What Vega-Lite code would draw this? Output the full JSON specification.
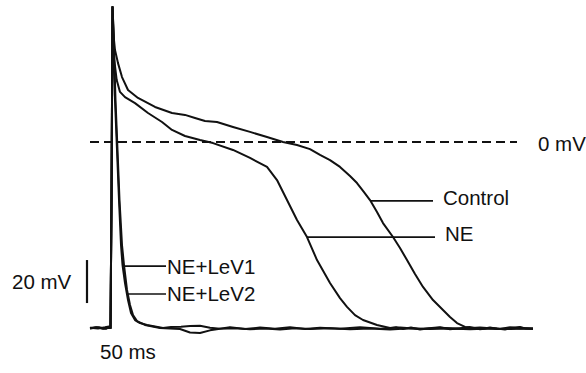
{
  "$schema": "https://vega.github.io/schema/vega-lite/v6.json",
  "width": 586,
  "height": 373,
  "autosize": {"type": "fit", "contains": "padding"},
  "padding": 0,
  "background": "white",
  "config": {"view": {"stroke": null}},
  "datasets": {
    "traces": [
      {"s":"Control","t":-21,"v":-86.5},{"s":"Control","t":-15,"v":-86.1},{"s":"Control","t":-8,"v":-86.9},{"s":"Control","t":-3,"v":-86.3},{"s":"Control","t":-0.5,"v":-86.5},{"s":"Control","t":0.5,"v":-27.0},{"s":"Control","t":1.5,"v":62.8},{"s":"Control","t":3,"v":47.4},{"s":"Control","t":4,"v":42.8},{"s":"Control","t":7,"v":36.7},{"s":"Control","t":11,"v":30.2},{"s":"Control","t":17,"v":24.2},{"s":"Control","t":27,"v":20.5},{"s":"Control","t":44,"v":16.3},{"s":"Control","t":61,"v":13.5},{"s":"Control","t":74,"v":12.6},{"s":"Control","t":84,"v":11.2},{"s":"Control","t":94,"v":9.8},{"s":"Control","t":106,"v":9.3},{"s":"Control","t":122,"v":7.0},{"s":"Control","t":139,"v":4.7},{"s":"Control","t":156,"v":2.3},{"s":"Control","t":172,"v":0.0},{"s":"Control","t":186,"v":-1.4},{"s":"Control","t":199,"v":-3.3},{"s":"Control","t":209,"v":-6.0},{"s":"Control","t":219,"v":-8.4},{"s":"Control","t":229,"v":-11.6},{"s":"Control","t":239,"v":-15.8},{"s":"Control","t":246,"v":-19.1},{"s":"Control","t":253,"v":-23.3},{"s":"Control","t":259,"v":-27.0},{"s":"Control","t":266,"v":-32.6},{"s":"Control","t":272,"v":-37.7},{"s":"Control","t":282,"v":-44.2},{"s":"Control","t":289,"v":-49.3},{"s":"Control","t":296,"v":-54.9},{"s":"Control","t":304,"v":-61.4},{"s":"Control","t":312,"v":-67.4},{"s":"Control","t":322,"v":-73.5},{"s":"Control","t":332,"v":-78.1},{"s":"Control","t":339,"v":-81.4},{"s":"Control","t":346,"v":-84.2},{"s":"Control","t":354,"v":-86.0},{"s":"Control","t":364,"v":-86.5},{"s":"Control","t":372,"v":-86.9},{"s":"Control","t":379,"v":-86.3},{"s":"Control","t":386,"v":-86.8},{"s":"Control","t":394,"v":-87.2},{"s":"Control","t":401,"v":-86.4},{"s":"Control","t":409,"v":-86.0},{"s":"Control","t":415,"v":-86.8},{"s":"Control","t":422,"v":-86.9},
      {"s":"NE","t":-21,"v":-86.7},{"s":"NE","t":-14,"v":-86.3},{"s":"NE","t":-7,"v":-86.8},{"s":"NE","t":-2,"v":-86.4},{"s":"NE","t":-0.5,"v":-86.5},{"s":"NE","t":0.5,"v":-27.0},{"s":"NE","t":1.5,"v":62.8},{"s":"NE","t":2.5,"v":47.4},{"s":"NE","t":3.3,"v":38.1},{"s":"NE","t":5.7,"v":28.8},{"s":"NE","t":9,"v":23.3},{"s":"NE","t":14,"v":20.9},{"s":"NE","t":24,"v":18.1},{"s":"NE","t":37,"v":13.5},{"s":"NE","t":51,"v":9.3},{"s":"NE","t":61,"v":5.6},{"s":"NE","t":74,"v":2.8},{"s":"NE","t":89,"v":0.9},{"s":"NE","t":102,"v":-0.5},{"s":"NE","t":122,"v":-3.7},{"s":"NE","t":139,"v":-7.4},{"s":"NE","t":156,"v":-11.6},{"s":"NE","t":166,"v":-17.7},{"s":"NE","t":176,"v":-27.0},{"s":"NE","t":186,"v":-36.3},{"s":"NE","t":196,"v":-44.2},{"s":"NE","t":206,"v":-54.9},{"s":"NE","t":219,"v":-65.6},{"s":"NE","t":229,"v":-72.6},{"s":"NE","t":236,"v":-76.7},{"s":"NE","t":244,"v":-80.5},{"s":"NE","t":252,"v":-82.8},{"s":"NE","t":266,"v":-85.1},{"s":"NE","t":279,"v":-86.5},{"s":"NE","t":285,"v":-86.1},{"s":"NE","t":292,"v":-87.0},{"s":"NE","t":300,"v":-86.3},{"s":"NE","t":309,"v":-87.2},{"s":"NE","t":318,"v":-86.6},{"s":"NE","t":329,"v":-86.2},{"s":"NE","t":339,"v":-87.1},{"s":"NE","t":349,"v":-86.6},{"s":"NE","t":359,"v":-86.1},{"s":"NE","t":369,"v":-87.1},{"s":"NE","t":379,"v":-86.5},{"s":"NE","t":389,"v":-87.0},{"s":"NE","t":399,"v":-86.2},{"s":"NE","t":409,"v":-86.7},{"s":"NE","t":422,"v":-86.9},
      {"s":"NE+LeV1","t":-21,"v":-86.4},{"s":"NE+LeV1","t":-13,"v":-86.8},{"s":"NE+LeV1","t":-6,"v":-86.2},{"s":"NE+LeV1","t":-2,"v":-85.8},{"s":"NE+LeV1","t":-0.5,"v":-86.5},{"s":"NE+LeV1","t":0.5,"v":-27.0},{"s":"NE+LeV1","t":1.5,"v":62.8},{"s":"NE+LeV1","t":2,"v":50.7},{"s":"NE+LeV1","t":4,"v":19.5},{"s":"NE+LeV1","t":6,"v":-3.7},{"s":"NE+LeV1","t":8,"v":-27.0},{"s":"NE+LeV1","t":10,"v":-47.9},{"s":"NE+LeV1","t":11.5,"v":-57.2},{"s":"NE+LeV1","t":14,"v":-65.6},{"s":"NE+LeV1","t":17,"v":-73.5},{"s":"NE+LeV1","t":20,"v":-79.5},{"s":"NE+LeV1","t":24,"v":-82.8},{"s":"NE+LeV1","t":29,"v":-84.2},{"s":"NE+LeV1","t":36,"v":-85.1},{"s":"NE+LeV1","t":52,"v":-86.5},{"s":"NE+LeV1","t":60,"v":-86.1},{"s":"NE+LeV1","t":70,"v":-85.9},{"s":"NE+LeV1","t":79,"v":-85.6},{"s":"NE+LeV1","t":89,"v":-85.5},{"s":"NE+LeV1","t":99,"v":-86.4},{"s":"NE+LeV1","t":109,"v":-86.8},{"s":"NE+LeV1","t":119,"v":-86.1},{"s":"NE+LeV1","t":134,"v":-87.0},{"s":"NE+LeV1","t":149,"v":-86.3},{"s":"NE+LeV1","t":164,"v":-86.9},{"s":"NE+LeV1","t":179,"v":-86.2},{"s":"NE+LeV1","t":194,"v":-87.0},{"s":"NE+LeV1","t":209,"v":-86.4},{"s":"NE+LeV1","t":229,"v":-86.9},{"s":"NE+LeV1","t":249,"v":-86.2},{"s":"NE+LeV1","t":269,"v":-86.8},{"s":"NE+LeV1","t":289,"v":-86.3},{"s":"NE+LeV1","t":309,"v":-87.0},{"s":"NE+LeV1","t":329,"v":-86.4},{"s":"NE+LeV1","t":349,"v":-86.9},{"s":"NE+LeV1","t":369,"v":-86.3},{"s":"NE+LeV1","t":389,"v":-87.0},{"s":"NE+LeV1","t":409,"v":-86.4},{"s":"NE+LeV1","t":422,"v":-86.8},
      {"s":"NE+LeV2","t":-21,"v":-86.6},{"s":"NE+LeV2","t":-12,"v":-86.2},{"s":"NE+LeV2","t":-5,"v":-86.9},{"s":"NE+LeV2","t":-1.5,"v":-86.0},{"s":"NE+LeV2","t":-0.5,"v":-86.5},{"s":"NE+LeV2","t":0.5,"v":-27.0},{"s":"NE+LeV2","t":1.5,"v":62.8},{"s":"NE+LeV2","t":2.5,"v":50.7},{"s":"NE+LeV2","t":4.5,"v":19.5},{"s":"NE+LeV2","t":6.5,"v":-3.7},{"s":"NE+LeV2","t":8.5,"v":-27.0},{"s":"NE+LeV2","t":11,"v":-47.9},{"s":"NE+LeV2","t":13,"v":-57.2},{"s":"NE+LeV2","t":16,"v":-68.8},{"s":"NE+LeV2","t":19,"v":-75.8},{"s":"NE+LeV2","t":22,"v":-80.5},{"s":"NE+LeV2","t":26,"v":-83.3},{"s":"NE+LeV2","t":34,"v":-85.1},{"s":"NE+LeV2","t":49,"v":-86.5},{"s":"NE+LeV2","t":59,"v":-86.8},{"s":"NE+LeV2","t":69,"v":-87.0},{"s":"NE+LeV2","t":79,"v":-88.6},{"s":"NE+LeV2","t":89,"v":-88.8},{"s":"NE+LeV2","t":99,"v":-87.6},{"s":"NE+LeV2","t":109,"v":-86.9},{"s":"NE+LeV2","t":124,"v":-86.6},{"s":"NE+LeV2","t":139,"v":-87.1},{"s":"NE+LeV2","t":154,"v":-86.7},{"s":"NE+LeV2","t":169,"v":-87.2},{"s":"NE+LeV2","t":184,"v":-86.6},{"s":"NE+LeV2","t":199,"v":-87.0},{"s":"NE+LeV2","t":219,"v":-86.6},{"s":"NE+LeV2","t":239,"v":-87.1},{"s":"NE+LeV2","t":259,"v":-86.7},{"s":"NE+LeV2","t":279,"v":-87.2},{"s":"NE+LeV2","t":299,"v":-86.6},{"s":"NE+LeV2","t":319,"v":-87.0},{"s":"NE+LeV2","t":339,"v":-86.7},{"s":"NE+LeV2","t":359,"v":-87.1},{"s":"NE+LeV2","t":379,"v":-86.7},{"s":"NE+LeV2","t":399,"v":-87.0},{"s":"NE+LeV2","t":422,"v":-86.7}
    ],
    "zero": [{"t": -21, "t2": 406, "v": 0}],
    "leaders": [
      {"name":"NE+LeV1","t":12,"t2":55,"v":-57.7},
      {"name":"NE+LeV2","t":16,"t2":55,"v":-70.7},
      {"name":"Control","t":259,"t2":322,"v":-27.4},
      {"name":"NE","t":196,"t2":324,"v":-44.2}
    ],
    "scalebar": [{"t": -24, "v": -54.9, "v2": -74.9}],
    "labels": [
      {"text":"NE+LeV1","t":56,"v":-58.4},
      {"text":"NE+LeV2","t":56,"v":-71.2},
      {"text":"Control","t":332,"v":-26.5},
      {"text":"NE","t":334,"v":-43.3},
      {"text":"0 mV","t":427,"v":-1.2},
      {"text":"20 mV","t":-99,"v":-65.6},
      {"text":"50 ms","t":-11,"v":-98.1}
    ]
  },
  "layer": [
    {
      "data": {"name": "zero"},
      "mark": {"type": "rule", "color": "#111111", "strokeWidth": 1.9, "strokeDash": [9, 5]},
      "encoding": {
        "x": {"field": "t", "type": "quantitative", "scale": {"domain": [-111, 475], "nice": false, "zero": false}, "axis": null},
        "x2": {"field": "t2"},
        "y": {"field": "v", "type": "quantitative", "scale": {"domain": [-107.44, 66.05], "nice": false, "zero": false}, "axis": null}
      }
    },
    {
      "data": {"name": "traces"},
      "mark": {"type": "line", "color": "#111111", "strokeWidth": 2, "strokeJoin": "round"},
      "encoding": {
        "x": {"field": "t", "type": "quantitative"},
        "y": {"field": "v", "type": "quantitative"},
        "detail": {"field": "s", "type": "nominal"}
      }
    },
    {
      "data": {"name": "leaders"},
      "mark": {"type": "rule", "color": "#111111", "strokeWidth": 1.7},
      "encoding": {
        "x": {"field": "t", "type": "quantitative"},
        "x2": {"field": "t2"},
        "y": {"field": "v", "type": "quantitative"}
      }
    },
    {
      "data": {"name": "scalebar"},
      "mark": {"type": "rule", "color": "#111111", "strokeWidth": 2.2},
      "encoding": {
        "x": {"field": "t", "type": "quantitative"},
        "y": {"field": "v", "type": "quantitative"},
        "y2": {"field": "v2"}
      }
    },
    {
      "data": {"name": "labels"},
      "mark": {"type": "text", "align": "left", "baseline": "middle", "font": "Liberation Sans", "fontSize": 20.5, "color": "#111111"},
      "encoding": {
        "x": {"field": "t", "type": "quantitative"},
        "y": {"field": "v", "type": "quantitative"},
        "text": {"field": "text", "type": "nominal"}
      }
    }
  ]
}
